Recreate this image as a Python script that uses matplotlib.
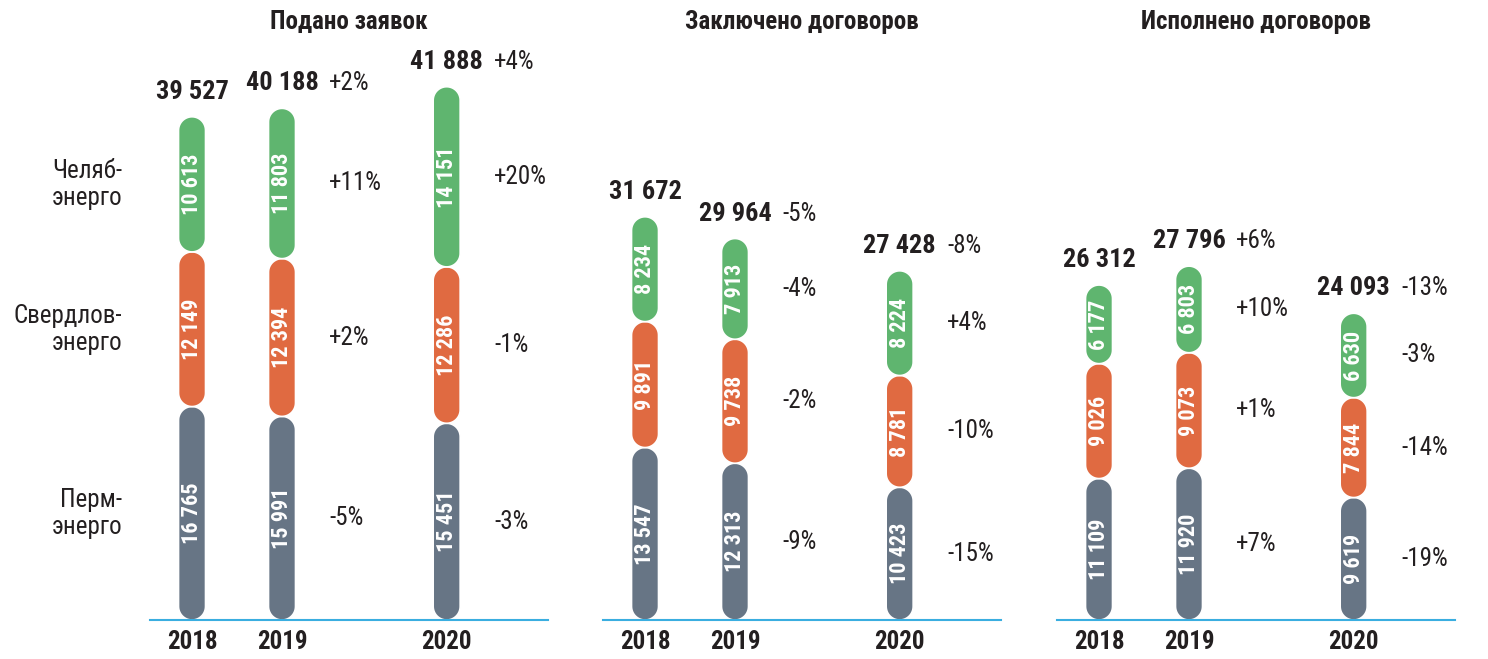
import numpy as np
import matplotlib.pyplot as plt
from matplotlib.patches import Polygon

plt.rcParams['font.family'] = ['Roboto Condensed', 'DejaVu Sans']

years = ['2018', '2019', '2020']
titles = ['Подано заявок', 'Заключено договоров', 'Исполнено договоров']
companies = ['Перм-\nэнерго', 'Свердлов-\nэнерго', 'Челяб-\nэнерго']

# Пермэнерго, Свердловэнерго, Челябэнерго по годам
filed_perm = [16765, 15991, 15451]
filed_sverd = [12149, 12394, 12286]
filed_chel = [10613, 11803, 14151]
filed_total = [39527, 40188, 41888]

concl_perm = [13547, 12313, 10423]
concl_sverd = [9891, 9738, 8781]
concl_chel = [8234, 7913, 8224]
concl_total = [31672, 29964, 27428]

exec_perm = [11109, 11920, 9619]
exec_sverd = [9026, 9073, 7844]
exec_chel = [6177, 6803, 6630]
exec_total = [26312, 27796, 24093]

# изменения к предыдущему году (для 2019 и 2020)
filed_chg_total = ['+2%', '+4%']
filed_chg_perm = ['-5%', '-3%']
filed_chg_sverd = ['+2%', '-1%']
filed_chg_chel = ['+11%', '+20%']

concl_chg_total = ['-5%', '-8%']
concl_chg_perm = ['-9%', '-15%']
concl_chg_sverd = ['-2%', '-10%']
concl_chg_chel = ['-4%', '+4%']

exec_chg_total = ['+6%', '-13%']
exec_chg_perm = ['+7%', '-19%']
exec_chg_sverd = ['+1%', '-14%']
exec_chg_chel = ['+10%', '-3%']

panels = [
    (titles[0], [filed_perm, filed_sverd, filed_chel], filed_total,
     [filed_chg_perm, filed_chg_sverd, filed_chg_chel], filed_chg_total),
    (titles[1], [concl_perm, concl_sverd, concl_chel], concl_total,
     [concl_chg_perm, concl_chg_sverd, concl_chg_chel], concl_chg_total),
    (titles[2], [exec_perm, exec_sverd, exec_chel], exec_total,
     [exec_chg_perm, exec_chg_sverd, exec_chg_chel], exec_chg_total),
]

colors = ['#677585', '#e06a41', '#5fb56f']
text_c = '#231f20'
W, H = 1488, 659
fig = plt.figure(figsize=(W / 100, H / 100), dpi=100)

pos = [0, 1, 2.83]
starts = [150, 603, 1057]
bar_w = 0.3
ymax = 48700

def fmt(v):
    return f'{v:,}'.replace(',', ' ')

def pill(ax, x, y0, h, ry, fc):
    # вертикальная "таблетка" со скруглёнными концами
    t = np.linspace(0, np.pi, 30)
    top = np.column_stack([x + bar_w / 2 * np.cos(t), y0 + h - ry + ry * np.sin(t)])
    bot = np.column_stack([x - bar_w / 2 * np.cos(t), y0 + ry - ry * np.sin(t)])
    ax.add_patch(Polygon(np.vstack([top, bot]), closed=True, fc=fc, ec='white',
                         lw=1.2, zorder=2))

for p, (title, series, totals, chg, chg_tot) in enumerate(panels):
    ax = fig.add_axes([starts[p] / W, 39 / H, 398 / W, 620 / H])
    ax.set_xlim(-0.467, 3.956)
    ax.set_ylim(0, ymax)
    for s in ['top', 'right', 'left']:
        ax.spines[s].set_visible(False)
    ax.spines['bottom'].set_color('#3aaee0')
    ax.spines['bottom'].set_linewidth(1.5)
    ax.set_yticks([])
    ax.set_xticks(pos)
    ax.set_xticklabels(years, fontsize=18, fontweight='bold', color=text_c)
    ax.tick_params(axis='x', length=0, pad=7)

    # радиус скругления в единицах оси y (половина ширины столбика)
    ry = (bar_w / 2) * 90.0 / (620.0 / ymax)

    bottoms = [0, 0, 0]
    for k, vals in enumerate(series):
        for i, v in enumerate(vals):
            pill(ax, pos[i], bottoms[i], v, ry, colors[k])
            mid = bottoms[i] + v / 2
            ax.text(pos[i], mid, fmt(v), rotation=90, ha='center', va='center',
                    color='white', fontsize=16, fontweight='bold', zorder=3)
            if i > 0:
                ax.annotate(chg[k][i - 1], (pos[i], mid), xytext=(34, 0),
                            textcoords='offset points', ha='left', va='center',
                            fontsize=18, color=text_c)
            if p == 0 and i == 0:
                ax.annotate(companies[k], (pos[i], mid), xytext=(-50, 0),
                            textcoords='offset points', ha='right', va='center',
                            multialignment='right', fontsize=18, color=text_c,
                            linespacing=1.15, annotation_clip=False)
            bottoms[i] += v

    for i, t in enumerate(totals):
        ax.annotate(fmt(t), (pos[i], t), xytext=(0, 18), textcoords='offset points',
                    ha='center', va='center', fontsize=19, fontweight='bold',
                    color=text_c)
        if i > 0:
            ax.annotate(chg_tot[i - 1], (pos[i], t), xytext=(34, 18),
                        textcoords='offset points', ha='left', va='center',
                        fontsize=18, color=text_c)

    ax.text(0.5, (620 - 22) / 620, title, transform=ax.transAxes, ha='center',
            va='center', fontsize=18, fontweight='bold', color=text_c)

fig.savefig('out.png', dpi=100)
